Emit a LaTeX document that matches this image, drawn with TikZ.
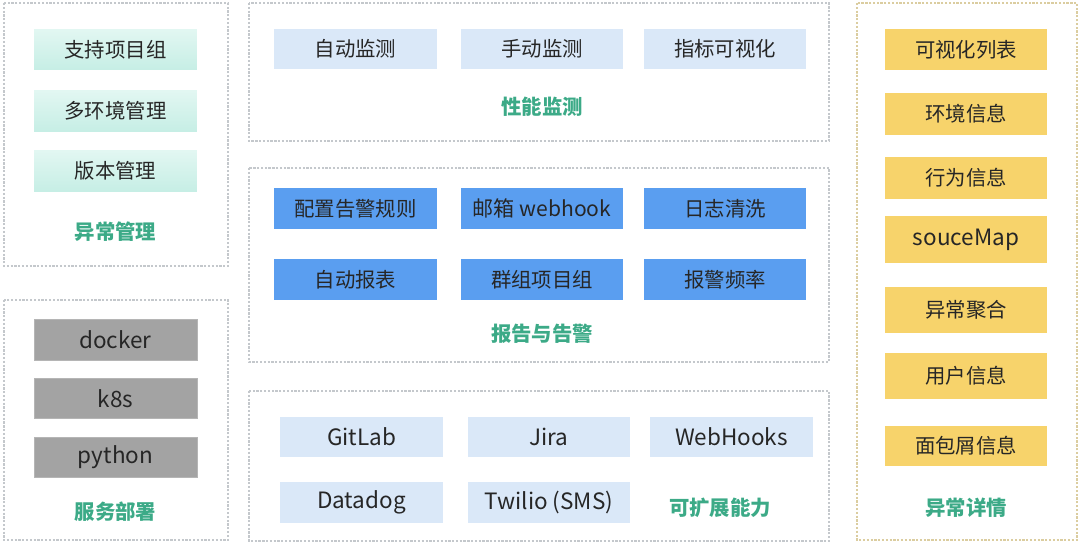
\documentclass[tikz,border=0pt]{standalone}
\usepackage{fontspec}
\setmainfont{Noto Sans CJK SC}
\usetikzlibrary{positioning}
\definecolor{tealbox}{HTML}{C6EEE5}
\definecolor{tealtop}{HTML}{E2F7F2}
\definecolor{graybox}{HTML}{A3A3A3}
\definecolor{paleblue}{HTML}{DAE8F8}
\definecolor{midblue}{HTML}{5A9EF0}
\definecolor{yellowbox}{HTML}{F7D36B}
\definecolor{titlegreen}{HTML}{3CAA87}
\definecolor{panelline}{HTML}{C4C8CC}
\tikzset{
  panel/.style={draw=panelline,line width=0.9pt,dash pattern=on 1.6pt off 1.1pt},
  box/.style={minimum width=4.07cm,minimum height=1.02cm,inner sep=0pt,
    font=\fontsize{14.5}{17}\selectfont,text=black!85},
  latin/.style={font=\fontsize{16}{18}\selectfont},
  tealcell/.style={box,top color=tealtop,bottom color=tealbox},
  graycell/.style={box,latin,fill=graybox,draw=graybox!80!white,line width=0.6pt},
  palecell/.style={box,fill=paleblue},
  bluecell/.style={box,fill=midblue},
  yellowcell/.style={box,fill=yellowbox},
  grouptitle/.style={font=\fontsize{14.5}{17}\selectfont\bfseries,text=titlegreen}
}
\begin{document}
\begin{tikzpicture}[x=0.025cm,y=-0.025cm]
\useasboundingbox (0,0) rectangle (1080,543);
\draw[panel] (4,3) rectangle (228,266);
\draw[panel] (4,300) rectangle (228,540);
\draw[panel] (249,3) rectangle (829,141);
\draw[panel] (249,168) rectangle (829,362);
\draw[panel] (249,391) rectangle (829,541);
\draw[panel,draw=yellowbox!45!panelline] (857,3) rectangle (1077,540);

\node[tealcell] (xmgroup) at (115.5,49.5) {支持项目组};
\node[tealcell] (xmenv) at (115.5,111) {多环境管理};
\node[tealcell] (xmver) at (115.5,171) {版本管理};
\node[grouptitle] (xmtitle) at (115.5,232) {异常管理};

\node[graycell] (dkdocker) at (115.5,340) {docker};
\node[graycell] (dkk8s) at (115.5,398.5) {k8s};
\node[graycell] (dkpy) at (115.5,457.5) {python};
\node[grouptitle] (dktitle) at (115.5,512) {服务部署};

\node[palecell] (pfauto) at (355.5,49) {自动监测};
\node[palecell] (pfhand) at (542,49) {手动监测};
\node[palecell] (pfview) at (725,49) {指标可视化};
\node[grouptitle] (pftitle) at (542,107) {性能监测};

\node[bluecell] (alrule) at (355.5,208.5) {配置告警规则};
\node[bluecell,font=\fontsize{15}{17}\selectfont] (almail) at (542,208.5) {邮箱 webhook};
\node[bluecell] (allog) at (725,208.5) {日志清洗};
\node[bluecell] (alreport) at (355.5,279.5) {自动报表};
\node[bluecell] (algroup) at (542,279.5) {群组项目组};
\node[bluecell] (alfreq) at (725,279.5) {报警频率};
\node[grouptitle] (altitle) at (542,334) {报告与告警};

\node[palecell,latin] (exgit) at (361.5,437) {GitLab};
\node[palecell,latin] (exjira) at (549,437) {Jira};
\node[palecell,latin] (exhook) at (731.5,437) {WebHooks};
\node[palecell,latin] (exdog) at (361.5,502.5) {Datadog};
\node[palecell,latin] (extw) at (549,502.5) {Twilio (SMS)};
\node[grouptitle] (extitle) at (720,508) {可扩展能力};

\node[yellowcell] (dtlist) at (966,49.5) {可视化列表};
\node[yellowcell,minimum height=1.07cm] (dtenv) at (966,114) {环境信息};
\node[yellowcell,minimum height=1.05cm] (dtact) at (966,178) {行为信息};
\node[yellowcell,latin,minimum height=1.17cm] (dtmap) at (966,239.5) {souceMap};
\node[yellowcell,minimum height=1.15cm] (dtagg) at (966,310) {异常聚合};
\node[yellowcell,minimum height=1.17cm] (dtuser) at (966,376) {用户信息};
\node[yellowcell] (dtcrumb) at (966,446) {面包屑信息};
\node[grouptitle] (dttitle) at (966,508) {异常详情};
\end{tikzpicture}
\end{document}
